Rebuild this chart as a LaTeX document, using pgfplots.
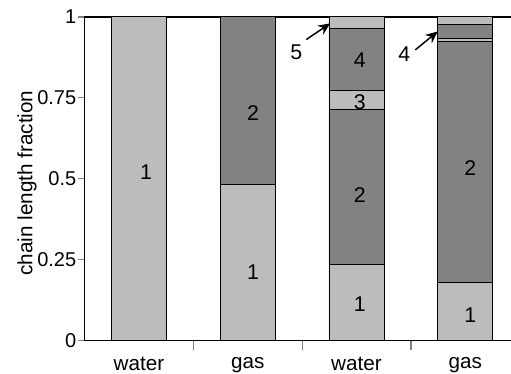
\documentclass[border=0pt]{standalone}
\usepackage{fontspec}
\setmainfont{Liberation Sans}
\usepackage{pgfplots}
\pgfplotsset{compat=1.18}
\usetikzlibrary{arrows.meta}
\definecolor{lightbar}{RGB}{188,188,188}
\definecolor{darkbar}{RGB}{130,130,130}
\begin{document}
\begin{tikzpicture}[font=\fontsize{15.5}{18}\selectfont]
\begin{axis}[
  scale only axis,
  width=320pt, height=242.8pt,
  xmin=-0.5, xmax=3.42,
  ymin=0, ymax=1,
  axis x line*=bottom, axis y line*=left,
  axis line style={line width=0.9pt},
  ybar stacked, bar width=0.506,
  xtick={0,1,2,3},
  xticklabels={water,gas,water,gas},
  major x tick style={draw=none},
  minor xtick={0.5,1.5,2.5},
  minor x tick style={line width=0.9pt},
  minor tick length=7pt,
  tick align=outside,
  ytick={0,0.25,0.5,0.75,1},
  yticklabels={0,0.25,0.5,0.75,1},
  major tick length=5pt,
  y tick style={line width=0.9pt},
  yticklabel style={font=\fontsize{15}{18}\selectfont, anchor=east, inner sep=1pt, xshift=0pt},
  xticklabel style={font=\fontsize{15.5}{18}\selectfont, yshift=-4pt},
  ylabel={chain length fraction},
  ylabel style={at={(axis description cs:-0.135,0.487)}, anchor=center},
  clip=false,
]
\addplot[fill=lightbar, draw=black, line width=0.7pt] coordinates {(0,1.0) (1,0.481) (2,0.234) (3,0.179)};
\addplot[fill=darkbar, draw=black, line width=0.7pt] coordinates {(0,0) (1,0.519) (2,0.481) (3,0.745)};
\addplot[fill=lightbar, draw=black, line width=0.7pt] coordinates {(0,0) (1,0) (2,0.057) (3,0.008)};
\addplot[fill=darkbar, draw=black, line width=0.7pt] coordinates {(0,0) (1,0) (2,0.192) (3,0.045)};
\addplot[fill=lightbar, draw=black, line width=0.7pt] coordinates {(0,0) (1,0) (2,0.036) (3,0.023)};
\draw[line width=0.9pt] (rel axis cs:0,1) -- (rel axis cs:1,1);
\coordinate (a1) at (axis cs:0.066,0.521);
\coordinate (b2) at (axis cs:1.05,0.703);
\coordinate (b1) at (axis cs:1.05,0.212);
\coordinate (c4) at (axis cs:2.03,0.867);
\coordinate (c3) at (axis cs:2.03,0.738);
\coordinate (c2) at (axis cs:2.03,0.450);
\coordinate (c1) at (axis cs:2.03,0.113);
\coordinate (d2) at (axis cs:3.047,0.533);
\coordinate (d1) at (axis cs:3.047,0.079);
\coordinate (n5) at (axis cs:1.446,0.892);
\coordinate (n4) at (axis cs:2.439,0.885);
\coordinate (s5) at (axis cs:1.538,0.930);
\coordinate (e5) at (axis cs:1.758,0.980);
\coordinate (s4) at (axis cs:2.540,0.898);
\coordinate (e4) at (axis cs:2.746,0.955);
\end{axis}
\begin{scope}[font=\fontsize{16}{19}\selectfont]
\node at (a1) {1};
\node at (b2) {2};
\node at (b1) {1};
\node at (c4) {4};
\node at (c3) {3};
\node at (c2) {2};
\node at (c1) {1};
\node at (d2) {2};
\node at (d1) {1};
\node at (n5) {5};
\node at (n4) {4};
\end{scope}
\draw[line width=1.1pt, -{Stealth[length=9pt,width=8pt]}] (s5) -- (e5);
\draw[line width=1.1pt, -{Stealth[length=9pt,width=8pt]}] (s4) -- (e4);
\pgfresetboundingbox
\path (-63.4pt,-25pt) rectangle (320pt,255.5pt);
\end{tikzpicture}
\end{document}
